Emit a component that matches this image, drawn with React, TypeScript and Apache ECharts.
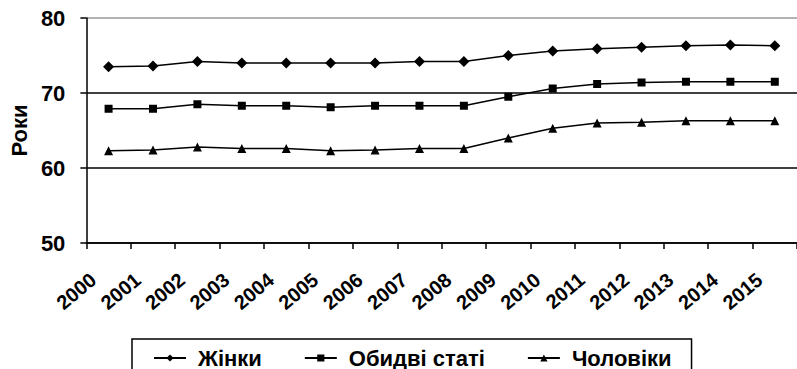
import React, { useEffect, useRef } from "react";
import * as echarts from "echarts";

const years = ["2000","2001","2002","2003","2004","2005","2006","2007","2008","2009","2010","2011","2012","2013","2014","2015"];
const women = [73.5, 73.6, 74.2, 74.0, 74.0, 74.0, 74.0, 74.2, 74.2, 75.0, 75.6, 75.9, 76.1, 76.3, 76.4, 76.3];
const both = [67.9, 67.9, 68.5, 68.3, 68.3, 68.1, 68.3, 68.3, 68.3, 69.5, 70.6, 71.2, 71.4, 71.5, 71.5, 71.5];
const men = [62.3, 62.4, 62.8, 62.6, 62.6, 62.3, 62.4, 62.6, 62.6, 64.0, 65.3, 66.0, 66.1, 66.3, 66.3, 66.3];
const seriesNames = ["Жінки", "Обидві статі", "Чоловіки"];
const yTitle = "Роки";

const FONT = "'Liberation Sans', Arial, sans-serif";

export default function App() {
  const ref = useRef<HTMLDivElement>(null);
  useEffect(() => {
    if (!ref.current) return;
    const chart = echarts.init(ref.current, null, { renderer: "svg" });
    const mk = (name: string, data: number[], symbol: string, size: number) => ({
      name,
      type: "line",
      data,
      symbol,
      symbolSize: size,
      showSymbol: true,
      lineStyle: { color: "#000", width: 1.5 },
      itemStyle: { color: "#000", borderWidth: 0 },
      emphasis: { disabled: true },
    });
    chart.setOption({
      animation: false,
      backgroundColor: "#fff",
      textStyle: { fontFamily: FONT },
      grid: { left: 84, top: 18, width: 717, bottom: 126, containLabel: false },
      legend: {
        left: 132,
        top: 339,
        padding: [8, 20, 30, 21],
        borderColor: "#000",
        borderWidth: 1.5,
        itemWidth: 32,
        itemHeight: 9,
        itemGap: 42,
        textStyle: { fontFamily: FONT, fontSize: 22, fontWeight: "bold", color: "#000", padding: [0, 0, 0, 7] },
        data: seriesNames,
      },
      xAxis: {
        type: "category",
        data: years,
        boundaryGap: true,
        axisLine: { lineStyle: { color: "#000", width: 1.5 } },
        axisTick: { show: true, length: 6, lineStyle: { color: "#000", width: 1.5 } },
        axisLabel: {
          rotate: 40,
          interval: 0,
          margin: 21,
          padding: [0, 20, 0, 0],
          fontFamily: FONT,
          fontSize: 20,
          fontWeight: "bold",
          color: "#000",
        },
      },
      yAxis: {
        type: "value",
        min: 50,
        max: 80,
        interval: 10,
        name: yTitle,
        nameLocation: "middle",
        nameGap: 56,
        nameTextStyle: { fontFamily: FONT, fontSize: 22, fontWeight: "bold", color: "#000" },
        axisLine: { show: true, lineStyle: { color: "#000", width: 1.5 } },
        axisTick: { show: true, length: 6, lineStyle: { color: "#000", width: 1.5 } },
        axisLabel: { margin: 21, fontFamily: FONT, fontSize: 22, fontWeight: "bold", color: "#000" },
        splitLine: { show: true, lineStyle: { color: ["#000", "#000", "#000", "#9a9a9a"], width: 1.5 } },
      },
      series: [
        mk(seriesNames[0], women, "diamond", 11),
        mk(seriesNames[1], both, "rect", 8),
        mk(seriesNames[2], men, "triangle", 9),
      ],
    });
    return () => chart.dispose();
  }, []);
  return <div ref={ref} style={{ position: "fixed", left: 0, top: 0, width: 797, height: 369 }} />;
}
